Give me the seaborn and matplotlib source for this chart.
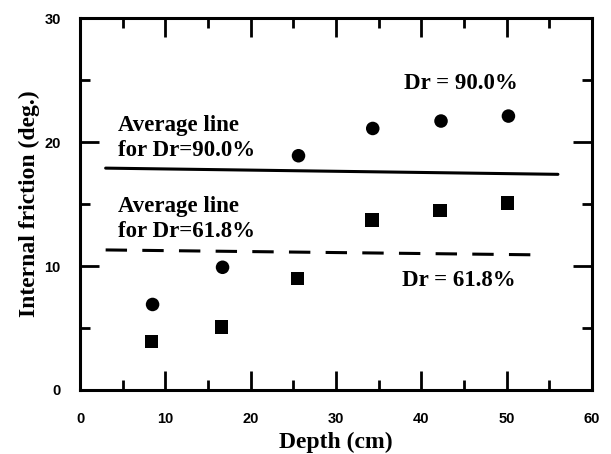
import pandas as pd
import matplotlib.pyplot as plt
import numpy as np
import seaborn as sns
from matplotlib.ticker import MultipleLocator

depth_90 = [8.5, 16.7, 25.6, 34.3, 42.3, 50.2]
phi_90 = [6.9, 9.9, 18.9, 21.1, 21.7, 22.1]
depth_62 = [8.4, 16.6, 25.5, 34.2, 42.2, 50.1]
phi_62 = [3.9, 5.1, 9.0, 13.7, 14.5, 15.1]

# Average lines (end points as drawn)
avg_90_x = [3, 56]
avg_90 = [17.9, 17.4]
avg_62_x = [3, 54]
avg_62 = [11.3, 10.9]

sns.set_style("ticks")
plt.rcParams['font.family'] = ['Liberation Serif', 'DejaVu Serif']
plt.rcParams['text.color'] = 'black'
plt.rcParams['axes.labelcolor'] = 'black'
plt.rcParams['axes.edgecolor'] = 'black'
plt.rcParams['xtick.color'] = 'black'
plt.rcParams['ytick.color'] = 'black'

df = pd.DataFrame({
    'Depth': depth_90 + depth_62,
    'Friction': phi_90 + phi_62,
    'Dr': ['90.0%'] * len(depth_90) + ['61.8%'] * len(depth_62),
})

fig = plt.figure(figsize=(6.11, 4.54), dpi=100)
ax = fig.add_axes([0.131, 0.141, 0.838, 0.819])

sns.scatterplot(data=df, x='Depth', y='Friction', style='Dr',
                markers={'90.0%': 'o', '61.8%': 's'}, color='black',
                s=95, edgecolor='black', linewidth=0, legend=False, ax=ax)

sns.lineplot(x=avg_90_x, y=avg_90, color='black', linewidth=2.2, ax=ax)
sns.lineplot(x=avg_62_x, y=avg_62, color='black', linewidth=2.2,
             linestyle=(0, (7, 5)), ax=ax)

txt = dict(fontsize=16.5, fontweight='bold', va='center', color='black')
ax.text(4.5, 21.3, 'Average line', **txt)
ax.text(4.5, 19.3, 'for Dr=90.0%', **txt)
ax.text(4.5, 14.8, 'Average line', **txt)
ax.text(4.5, 12.8, 'for Dr=61.8%', **txt)
ax.text(38, 24.7, 'Dr = 90.0%', **txt)
ax.text(37.7, 8.8, 'Dr = 61.8%', **txt)

ax.set_xlim(0, 60)
ax.set_ylim(0, 30)
ax.xaxis.set_major_locator(MultipleLocator(10))
ax.xaxis.set_minor_locator(MultipleLocator(5))
ax.yaxis.set_major_locator(MultipleLocator(10))
ax.yaxis.set_minor_locator(MultipleLocator(5))
ax.tick_params(which='both', direction='in', top=True, right=True,
               width=2, labelsize=10.5, colors='black')
ax.tick_params(axis='x', which='both', pad=16)
ax.tick_params(axis='y', which='both', pad=14)
ax.tick_params(which='major', length=13.5)
ax.tick_params(which='minor', length=7)
for lab in ax.get_xticklabels() + ax.get_yticklabels():
    lab.set_fontfamily('Liberation Sans')
    lab.set_fontweight('bold')
for sp in ax.spines.values():
    sp.set_linewidth(2.2)
    sp.set_color('black')

ax.set_xlabel('Depth (cm)', fontsize=17, fontweight='bold', labelpad=4)
ax.set_ylabel('Internal friction (deg.)', fontsize=17, fontweight='bold', labelpad=3)

fig.savefig('out.png', dpi=100)
